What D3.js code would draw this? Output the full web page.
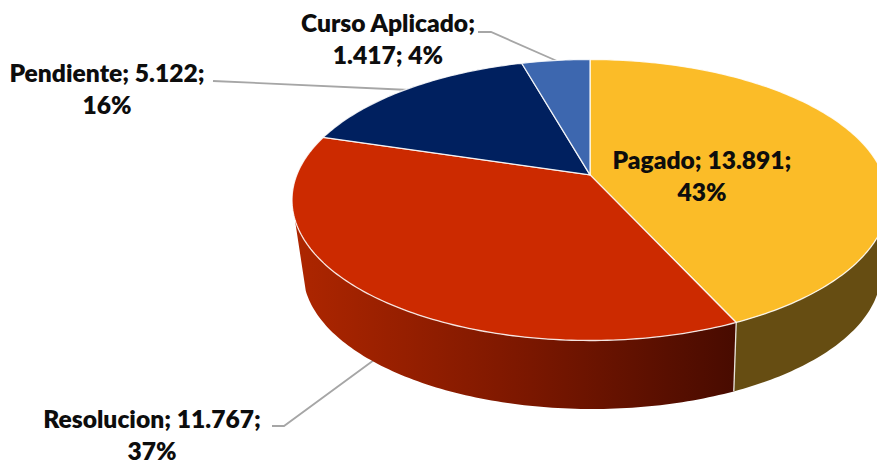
<!DOCTYPE html>
<html>
<head>
<meta charset="utf-8">
<script src="https://cdn.jsdelivr.net/npm/d3@7"></script>
<style>
  html, body { margin: 0; padding: 0; background: #fff; overflow: hidden; }
  svg { display: block; }
  .lbl { font-family: Lato, Carlito, sans-serif; font-weight: 800; font-size: 24.6px; fill: #0d0d0d; text-anchor: middle; }
</style>
</head>
<body>
<svg id="drawing_region"></svg>
<script>
const categories = ["Pagado", "Resolucion", "Pendiente", "Curso Aplicado"];
const values = [13891, 11767, 5122, 1417];
const colors = ["#FBBC28", "#CC2A00", "#00205F", "#3D67AF"];

const width = 877, height = 465;

// top face and lower rim of the tilted disc, both as screen ellipses
const topFace = {cx: 590, cy: 200, rx: 298, ry: 140.5};
const lowFace = {cx: 592, cy: 272, rx: 289, ry: 137};
const tilt = -0.179; // the pie centre sits above the ellipse centre (perspective)

// visible part of the side wall, clockwise from 12 o'clock
const sideStart = 95 * Math.PI / 180, sideEnd = 252 * Math.PI / 180;

// where each label goes, in pie order: two lines, centred
const labelPos = [[702, 169], [152, 428], [107, 82], [388, 32]];
const leaders = [
    null,
    [[272, 426], [284, 426], [374, 360]],
    [[213, 81], [410, 90]],
    [[478, 32], [491, 32], [557, 61]]
];

const fmt = d3.formatLocale({decimal: ",", thousands: ".", grouping: [3], currency: ["", ""]}).format(",d");
const total = d3.sum(values);

const svg = d3.select("#drawing_region").attr("width", width).attr("height", height);

const arcs = d3.pie().sort(null).value(d => d)(values);

function project(a, face) {
    const x = Math.sin(a), y = -Math.cos(a);
    const den = 1 + tilt * y;
    const u = x * Math.sqrt(1 - tilt * tilt) / den;
    const v = (y + tilt) / den;
    return [face.cx + face.rx * u, face.cy + face.ry * v];
}

function sample(a0, a1, face) {
    const n = Math.max(2, Math.ceil(Math.abs(a1 - a0) * 60));
    return d3.range(n + 1).map(i => project(a0 + (a1 - a0) * i / n, face));
}

const line = d3.line();

const defs = svg.append("defs");
const grad = defs.append("linearGradient")
    .attr("id", "redSide")
    .attr("gradientUnits", "userSpaceOnUse")
    .attr("x1", 293).attr("y1", 0).attr("x2", 735).attr("y2", 0);
grad.selectAll("stop")
    .data([[0, "#AE2600"], [0.5, "#7E1800"], [1, "#480B00"]])
    .enter().append("stop")
    .attr("offset", d => d[0])
    .attr("stop-color", d => d[1]);

const sideFill = ["#664D12", "url(#redSide)"];

// leader lines sit under the pie
svg.append("g").selectAll("path")
    .data(leaders.filter(d => d))
    .enter().append("path")
    .attr("d", d => line(d))
    .attr("fill", "none")
    .attr("stroke", "#A6A6A6")
    .attr("stroke-width", 1.8);

// side wall
arcs.forEach((d, i) => {
    const a0 = Math.max(d.startAngle, sideStart), a1 = Math.min(d.endAngle, sideEnd);
    if (a1 <= a0) return;
    const pts = sample(a0, a1, topFace).concat(sample(a1, a0, lowFace));
    svg.append("path")
        .attr("d", line(pts) + "Z")
        .attr("fill", sideFill[i]);
});

// seam between the two wall sections
const seam = arcs[0].endAngle;
svg.append("path")
    .attr("d", line([project(seam, topFace), project(seam, lowFace)]))
    .attr("stroke", "#E8E4DC")
    .attr("stroke-width", 1.3);

// top face
const apex = [topFace.cx, topFace.cy + topFace.ry * tilt];
svg.append("g").selectAll("path")
    .data(arcs)
    .enter().append("path")
    .attr("d", d => line([apex].concat(sample(d.startAngle, d.endAngle, topFace))) + "Z")
    .attr("fill", (d, i) => colors[i])
    .attr("stroke", "#fff")
    .attr("stroke-opacity", 0.85)
    .attr("stroke-width", 1.3)
    .attr("stroke-linejoin", "round");

// labels
const labels = svg.append("g").selectAll("text")
    .data(arcs)
    .enter().append("text")
    .attr("class", "lbl")
    .attr("transform", (d, i) => `translate(${labelPos[i][0]}, ${labelPos[i][1]})`);

const lineOne = i => i === 3 ? `${categories[i]};` : `${categories[i]}; ${fmt(values[i])};`;
const lineTwo = i => {
    const pct = Math.round(values[i] / total * 100) + "%";
    return i === 3 ? `${fmt(values[i])}; ${pct}` : pct;
};

labels.append("tspan").attr("x", 0).attr("y", 0).text((d, i) => lineOne(i));
labels.append("tspan").attr("x", 0).attr("y", 32).text((d, i) => lineTwo(i));
</script>
</body>
</html>
